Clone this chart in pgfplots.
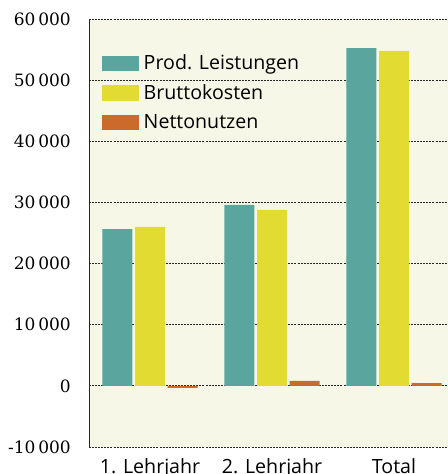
\documentclass[border=0pt]{standalone}
\usepackage{pgfplots}
\pgfplotsset{compat=1.18}
\usepackage{fontspec}
\setmainfont{Open Sans}
\newfontfamily\numfont{DejaVu Serif}
\definecolor{bgc}{HTML}{F7F7E8}
\definecolor{cteal}{HTML}{5AA59E}
\definecolor{cyel}{HTML}{E1DB32}
\definecolor{corg}{HTML}{CC6A2C}
\pgfplotsset{
  boxleg/.style={legend image code/.code={\fill[##1,draw=none] (0pt,-5.9pt) rectangle (27.75pt,5.9pt);}}
}
\begin{document}
\begin{tikzpicture}
\begin{axis}[
  at={(66.75pt,20.25pt)}, anchor=south west,
  scale only axis,
  width=274.5pt, height=321pt,
  axis background/.style={fill=bgc},
  ybar=1.9pt, bar width=22.5pt,
  xmin=0.5, xmax=3.5,
  ymin=-10000, ymax=60000,
  ytick={-10000,0,10000,20000,30000,40000,50000,60000},
  xtick={1,2,3},
  xticklabels={1. Lehrjahr, 2. Lehrjahr, Total},
  xtick style={draw=none},
  ytick style={draw=none},
  extra x ticks={1.5,2.5},
  extra x tick labels={},
  extra x tick style={tick align=inside, major tick length=3.75pt, tick style={draw=black!85, solid, line width=0.6pt}, xmajorgrids=false},
  axis lines*=left,
  y axis line style={draw=black!85, line width=0.75pt},
  x axis line style={draw=black!85, line width=0.7pt, dash pattern=on 1.5pt off 0.8pt},
  ymajorgrids,
  major grid style={draw=black!85, line width=0.7pt, dash pattern=on 1.5pt off 0.8pt},
  /pgf/number format/assume math mode=true,
  /pgf/number format/1000 sep={\,},
  scaled y ticks=false,
  yticklabel style={font=\numfont\fontsize{12.75}{15}\selectfont, anchor=east, inner sep=0pt, xshift=-13.5pt},
  xticklabel style={font=\fontsize{14.7}{17}\selectfont, yshift=-1pt},
  legend style={draw=none, fill=none, at={(axis description cs:0.0237,0.926)}, anchor=north west,
    font=\fontsize{14.7}{17}\selectfont, legend cell align=left, row sep=7.7pt, column sep=2.6pt,
    nodes={inner sep=1pt}},
  legend cell align=left,
]
\addplot[fill=cteal, draw=none, boxleg] coordinates {(1,25650) (2,29600) (3,55250)};
\addplot[fill=cyel, draw=none, boxleg] coordinates {(1,26000) (2,28800) (3,54800)};
\addplot[fill=corg, draw=none, boxleg] coordinates {(1,-350) (2,800) (3,450)};
\legend{Prod. Leistungen, Bruttokosten, Nettonutzen}
\end{axis}
\pgfresetboundingbox
\useasboundingbox (0,0) rectangle (336pt,355.5pt);
\end{tikzpicture}
\end{document}
